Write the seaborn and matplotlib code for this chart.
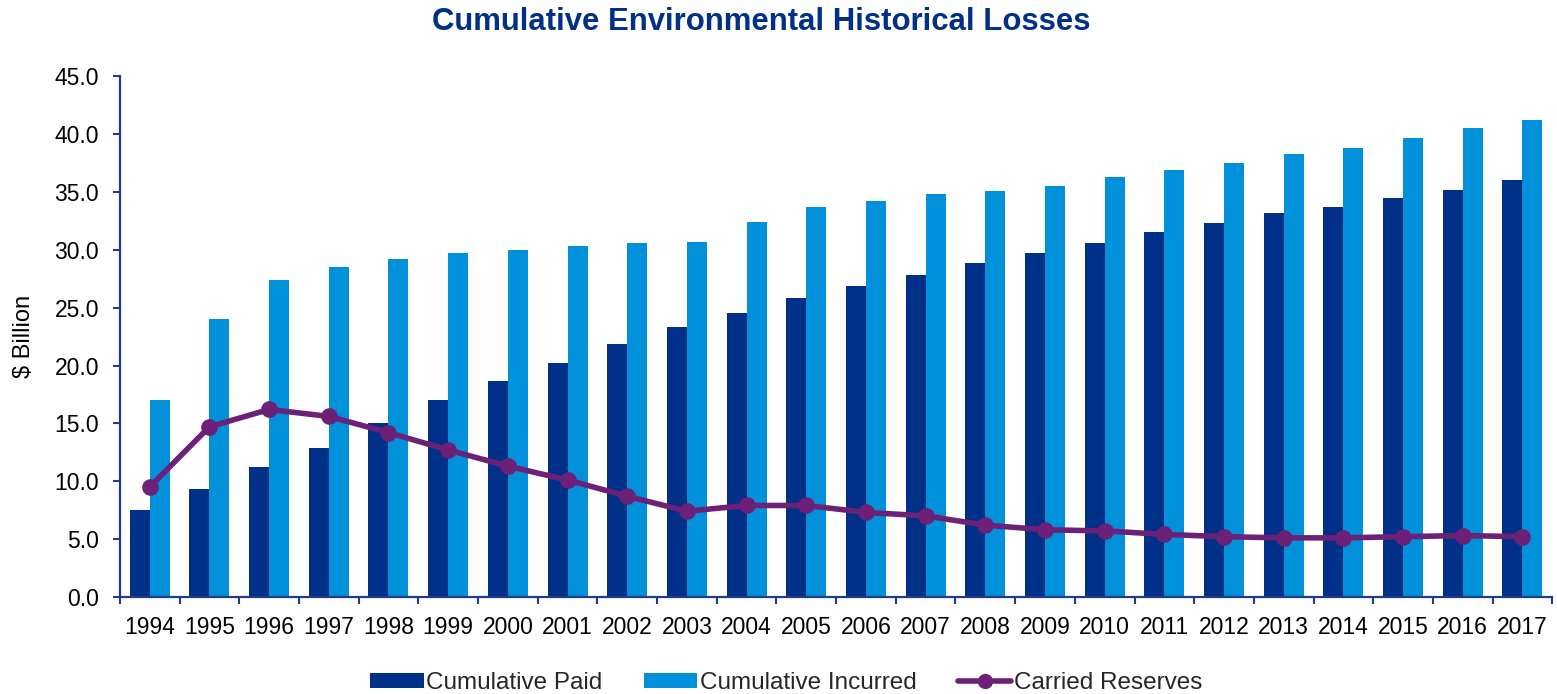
import numpy as np
import pandas as pd
import matplotlib
matplotlib.use("Agg")
import matplotlib.pyplot as plt
from matplotlib.patches import Patch
from matplotlib.lines import Line2D
import seaborn as sns

years = [str(y) for y in range(1994, 2018)]
cumulative_paid = [7.5, 9.3, 11.2, 12.9, 15.0, 17.0, 18.7, 20.2, 21.9, 23.3, 24.5, 25.8,
                   26.9, 27.8, 28.9, 29.7, 30.6, 31.5, 32.3, 33.2, 33.7, 34.5, 35.2, 36.0]
cumulative_incurred = [17.0, 24.0, 27.4, 28.5, 29.2, 29.7, 30.0, 30.3, 30.6, 30.7, 32.4, 33.7,
                       34.2, 34.8, 35.1, 35.5, 36.3, 36.9, 37.5, 38.3, 38.8, 39.7, 40.5, 41.2]
carried_reserves = [9.5, 14.7, 16.2, 15.6, 14.2, 12.7, 11.3, 10.1, 8.7, 7.4, 7.9, 7.9,
                    7.3, 7.0, 6.2, 5.8, 5.7, 5.4, 5.2, 5.1, 5.1, 5.2, 5.3, 5.2]
series_names = ["Cumulative Paid", "Cumulative Incurred", "Carried Reserves"]

NAVY = "#003087"
SKY = "#0091DA"
PURPLE = "#6D2077"
AXIS = "#1F3C8F"

sns.set_theme(style="white")
plt.rcParams["font.family"] = ["Liberation Sans", "DejaVu Sans"]

bars = pd.DataFrame({
    "year": years * 2,
    "value": cumulative_paid + cumulative_incurred,
    "series": [series_names[0]] * len(years) + [series_names[1]] * len(years),
})

fig = plt.figure(figsize=(15.57, 6.94), dpi=100)
ax = fig.add_axes([0.077, 0.140, 0.920, 0.750])

sns.barplot(data=bars, x="year", y="value", hue="series",
            palette=[NAVY, SKY], width=0.67, saturation=1,
            edgecolor="none", linewidth=0, legend=False, ax=ax)

sns.lineplot(x=np.arange(len(years)), y=carried_reserves, color=PURPLE,
             linewidth=4, marker="o", markersize=12, markeredgewidth=0,
             ax=ax, zorder=5)

ax.set_xlim(-0.5, len(years) - 0.5)
ax.set_ylim(0, 45)
ax.set_yticks(np.arange(0, 46, 5))
ax.set_yticklabels([f"{v:.1f}" for v in np.arange(0, 46, 5)])
ax.set_xticks(np.arange(len(years)))
ax.set_xticklabels(years)
ax.set_xticks(np.arange(-0.5, len(years)), minor=True)

ax.tick_params(axis="x", which="major", length=0, labelsize=16.5, pad=14, labelcolor="black")
ax.tick_params(axis="x", which="minor", length=5, width=1.5, color=AXIS, direction="out")
ax.tick_params(axis="y", length=5, width=1.5, color=AXIS, direction="out",
               labelsize=16.5, labelcolor="black", pad=10)
ax.xaxis.set_ticks_position("bottom")
ax.yaxis.set_ticks_position("left")

for side in ["top", "right"]:
    ax.spines[side].set_visible(False)
for side in ["left", "bottom"]:
    ax.spines[side].set_color(AXIS)
    ax.spines[side].set_linewidth(1.6)

ax.set_xlabel("")
ax.set_ylabel("$ Billion", fontsize=17, color="black", labelpad=14)
ax.grid(False)

fig.suptitle("Cumulative Environmental Historical Losses", x=0.489, y=0.99,
             fontsize=22.4, fontweight="bold", color=NAVY)

handles = [
    Patch(facecolor=NAVY, edgecolor="none"),
    Patch(facecolor=SKY, edgecolor="none"),
    Line2D([0], [0], color=PURPLE, linewidth=4, marker="o", markersize=11, markeredgewidth=0),
]
fig.legend(handles, series_names, loc="center", bbox_to_anchor=(0.505, 0.016),
           ncol=3, frameon=False, fontsize=17.5, handlelength=2.2, handleheight=0.55,
           columnspacing=1.7, handletextpad=0.1)

fig.savefig("out.png", dpi=100)
